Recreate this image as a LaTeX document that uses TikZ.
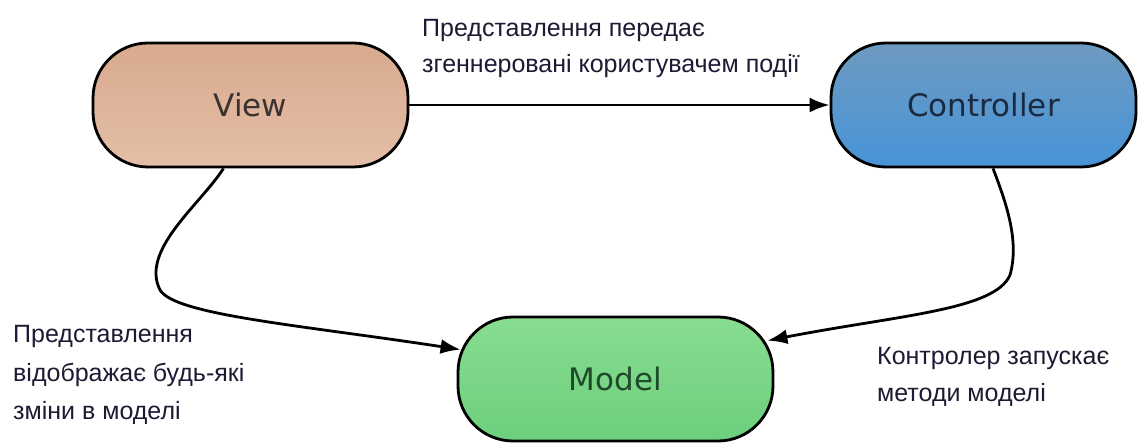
\documentclass[tikz,border=0pt]{standalone}
\usepackage{fontspec}
\setmainfont{Liberation Sans}
\newfontfamily\boxfont{DejaVu Sans}
\usetikzlibrary{arrows.meta}
\definecolor{viewtop}{HTML}{D8AA8E}
\definecolor{viewbot}{HTML}{E4BEA7}
\definecolor{viewtext}{HTML}{3B3230}
\definecolor{ctrltop}{HTML}{6E9AC0}
\definecolor{ctrlbot}{HTML}{4794D8}
\definecolor{ctrltext}{HTML}{1A2A40}
\definecolor{modeltop}{HTML}{88DD90}
\definecolor{modelbot}{HTML}{6CCF7C}
\definecolor{modeltext}{HTML}{1F4A2A}
\definecolor{labelc}{HTML}{1E1A33}
\begin{document}
\begin{tikzpicture}[x=1pt,y=-1pt,
  mvc/.style={draw=black, line width=2.8pt, rounded corners=55pt, minimum height=124pt,
    inner sep=0pt, font=\boxfont\fontsize{31}{36}\selectfont},
  lbl/.style={anchor=base west, align=left, inner sep=0pt, text=labelc},
  conn/.style={line width=2.8pt, -{Latex[length=20pt,width=15pt]}}]
\fill[white] (0,0) rectangle (1138,443);
\useasboundingbox (0,0) rectangle (1138,443);

\node[mvc, minimum width=315pt, top color=viewtop, bottom color=viewbot, text=viewtext] (view) at (250.5,105) {View};
\node[mvc, minimum width=305pt, top color=ctrltop, bottom color=ctrlbot, text=ctrltext] (ctrl) at (983.5,105) {Controller};
\node[mvc, minimum width=315pt, top color=modeltop, bottom color=modelbot, text=modeltext] (model) at (615.5,379) {Model};

\coordinate (vbend) at (160,290);
\coordinate (cbend) at (1010,275);

\draw[conn] (view.east) -- (ctrl.west);
\draw[conn] ([shift={(-27,0)}]view.south) .. controls (200,205) and (140,250) .. (vbend)
  .. controls (175,315) and (300,325) .. ([shift={(4,34)}]model.north west);
\draw[conn] ([shift={(9.5,0)}]ctrl.south) .. controls (1005,200) and (1020,240) .. (cbend)
  .. controls (995,310) and (900,315) .. ([shift={(-7,25)}]model.north east);

\node[lbl, font=\fontsize{25}{36}\selectfont] (toplbl) at (422,73) {Представлення передає\\згеннеровані користувачем події};
\node[lbl, font=\fontsize{25}{38.5}\selectfont] (leftlbl) at (13,420) {Представлення\\відображає будь-які\\зміни в моделі};
\node[lbl, font=\fontsize{25}{37}\selectfont] (rightlbl) at (877,402) {Контролер запускає\\методи моделі};
\end{tikzpicture}
\end{document}
